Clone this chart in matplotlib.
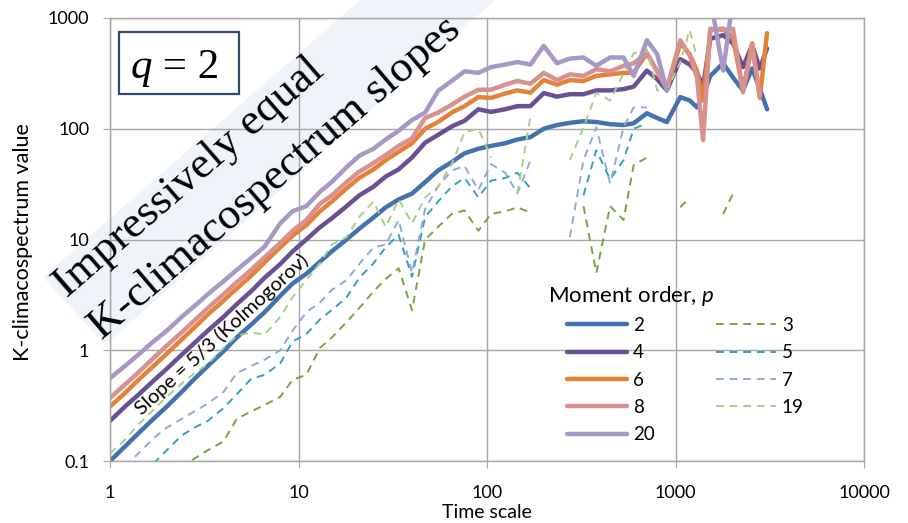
import numpy as np
import matplotlib
matplotlib.use("Agg")
import matplotlib.pyplot as plt
from matplotlib.patches import Polygon, Rectangle
from matplotlib.ticker import NullLocator

plt.rcParams['font.family'] = ['Lato', 'DejaVu Sans']
plt.rcParams['mathtext.fontset'] = 'custom'
plt.rcParams['mathtext.rm'] = 'Lato'
plt.rcParams['mathtext.it'] = 'Lato:italic'

nan = np.nan

# time scales (x)
scales = [1, 1.2, 1.4, 1.7, 2, 2.4, 2.8, 3.3, 4, 4.7,
          5.6, 6.6, 8, 9.3, 11, 13, 15, 18, 21, 25,
          29, 34, 40, 47, 55, 65, 76, 90, 105, 125,
          145, 170, 200, 235, 275, 325, 380, 450, 530, 600,
          705, 800, 900, 1060, 1190, 1300, 1400, 1530, 1790, 2020,
          2280, 2550, 2800, 3060]

p2 = [0.10, 0.135, 0.175, 0.24, 0.31, 0.42, 0.55, 0.72, 0.98, 1.3,
      1.7, 2.2, 3.1, 4.0, 4.9, 6.3, 7.8, 10, 12.5, 15.8,
      19.5, 23, 26, 33, 42, 50, 60, 66, 70, 74,
      80, 84, 100, 108, 113, 117, 115, 110, 108, 112,
      138, 125, 115, 193, 180, 156, 200, 300, 390, 290,
      222, 350, 230, 150]
p4 = [0.23, 0.31, 0.39, 0.53, 0.68, 0.91, 1.16, 1.5, 2.0, 2.6,
      3.4, 4.5, 6.0, 7.8, 10, 12.9, 15.5, 20, 25, 30,
      37, 43, 55, 75, 88, 105, 118, 150, 142, 150,
      160, 160, 210, 195, 205, 205, 222, 222, 228, 240,
      335, 280, 222, 425, 380, 320, 240, 650, 700, 590,
      360, 570, 350, 530]
p6 = [0.31, 0.41, 0.53, 0.72, 0.93, 1.25, 1.6, 2.1, 2.8, 3.6,
      4.7, 6.2, 8.5, 10.8, 13.5, 18, 22, 29, 36, 43,
      52, 62, 74, 100, 115, 140, 160, 193, 190, 208,
      222, 212, 275, 250, 275, 270, 300, 310, 320, 320,
      480, 330, 230, 590, 470, 335, 180, 780, 800, 660,
      222, 590, 190, 730]
p8 = [0.37, 0.49, 0.62, 0.85, 1.1, 1.45, 1.85, 2.4, 3.2, 4.1,
      5.3, 6.9, 9.3, 12, 15, 21, 25, 33, 41, 49,
      58, 70, 82, 125, 140, 165, 195, 225, 225, 250,
      270, 255, 320, 275, 310, 300, 345, 330, 370, 390,
      480, 330, 230, 630, 460, 290, 79, 800, 780, 800,
      213, 570, 200, nan]
p20 = [0.56, 0.72, 0.9, 1.2, 1.5, 2.0, 2.5, 3.2, 4.2, 5.3,
       6.8, 8.6, 14, 18, 20, 27, 33, 45, 57, 66,
       80, 96, 120, 140, 220, 270, 330, 320, 360, 380,
       400, 380, 560, 390, 430, 440, 370, 440, 440, 300,
       630, 470, 222, nan, nan, nan, nan, 1500, 335, 1500,
       nan, nan, nan, nan]
p3 = [nan, nan, nan, nan, nan, 0.085, 0.105, 0.125, 0.15, 0.24,
      0.28, 0.32, 0.38, 0.54, 0.6, 1.05, 1.3, 1.8, 2.4, 3.4,
      4.4, 5.5, 2.3, 10, 13, 17, 18.3, 12, 17, 18,
      19.5, 17.5, nan, nan, nan, 20, 5, 20, 15, 47,
      55, nan, nan, 19.5, 24, nan, nan, nan, 17, 26,
      nan, nan, nan, nan]
p5 = [nan, nan, nan, 0.095, 0.125, 0.17, 0.2, 0.23, 0.3, 0.4,
      0.55, 0.6, 0.76, 1.2, 1.4, 1.9, 2.3, 3.0, 4.5, 6.1,
      8.5, 11, 4.6, 16, 22, 30, 36, 24, 34, 36,
      40, 29, nan, nan, nan, 25, 64, 35, 52, 100,
      112, nan, nan, nan, nan, nan, nan, nan, nan, nan,
      nan, nan, nan, nan]
p7 = [nan, 0.09, 0.115, 0.16, 0.2, 0.24, 0.28, 0.33, 0.42, 0.62,
      0.72, 0.82, 1.0, 1.5, 2.2, 2.7, 3.5, 4.3, 6, 8.5,
      9, 15, 5.0, 19, 30, 42, 46, 28, 48, 40,
      26, 52, nan, nan, 10.5, 52, 103, 32, 103, 156,
      156, nan, nan, nan, nan, nan, nan, nan, nan, nan,
      nan, nan, nan, nan]
p19 = [0.117, 0.155, 0.21, 0.29, 0.38, 0.5, 0.62, 0.75, 1.05, 1.35,
       1.45, 1.38, 2.0, 3.0, 4.3, 6.1, 9, 10.5, 16, 22,
       13, 23, 14, 24, 30, 48, 93, 100, 55, nan,
       26, 130, nan, nan, 52, 103, 210, 180, 315, 480,
       520, 222, 222, 400, 780, 440, nan, nan, nan, nan,
       nan, nan, nan, nan]

series = [("2", p2, '#4273B0', '-'), ("3", p3, '#78A43E', '--'),
          ("4", p4, '#6A5092', '-'), ("5", p5, '#33A0BF', '--'),
          ("6", p6, '#E4823A', '-'), ("7", p7, '#8EAAD9', '--'),
          ("8", p8, '#D8918F', '-'), ("19", p19, '#A9CD8A', '--'),
          ("20", p20, '#A898C6', '-')]

W, H = 908, 523
fig = plt.figure(figsize=(W / 100, H / 100), dpi=100)


def fx(x):
    return x / W


def fy(y):
    return 1 - y / H


ax = fig.add_axes([fx(110), fy(461), (864 - 110) / W, (461 - 18) / H])
ax.patch.set_alpha(0)

handles = {}
for name, vals, col, ls in series:
    if ls == '-':
        h, = ax.plot(scales, vals, color=col, lw=3.2, solid_capstyle='round',
                     solid_joinstyle='round', label=name)
    else:
        h, = ax.plot(scales, vals, color=col, lw=1.4, dashes=(4, 3), label=name)
    handles[name] = h

ax.set_xscale('log')
ax.set_yscale('log')
ax.set_xlim(1, 10000)
ax.set_ylim(0.1, 1000)
ax.set_xticks([1, 10, 100, 1000, 10000])
ax.set_xticklabels(['1', '10', '100', '1000', '10000'])
ax.set_yticks([0.1, 1, 10, 100, 1000])
ax.set_yticklabels(['0.1', '1', '10', '100', '1000'])
ax.xaxis.set_minor_locator(NullLocator())
ax.yaxis.set_minor_locator(NullLocator())
ax.grid(True, color='#A6A6A6', lw=1.0)
ax.set_axisbelow(True)
for s in ax.spines.values():
    s.set_color('#A6A6A6')
    s.set_linewidth(1.0)
ax.tick_params(axis='both', which='major', length=5, color='#A6A6A6', labelsize=13)
ax.tick_params(axis='x', pad=12)
ax.tick_params(axis='y', pad=10)

fig.text(fx(487), fy(512), 'Time scale', ha='center', va='center', fontsize=14)
fig.text(fx(23), fy(242), 'K-climacospectrum value', ha='center', va='center',
         rotation=90, fontsize=15.5)

# light band behind the headline
band = Polygon([(fx(43), fy(277)), (fx(383), fy(-20)), (fx(518), fy(-20)), (fx(105), fy(345))],
               closed=True, transform=fig.transFigure, facecolor='#EFF3FA',
               edgecolor='none', zorder=-1)
fig.add_artist(band)

fig.text(fx(67), fy(298), 'Impressively equal', rotation=41, rotation_mode='anchor',
         ha='left', va='baseline', family='Liberation Serif', fontsize=32.5)
fig.text(fx(102), fy(340), 'K-climacospectrum slopes', rotation=40.5, rotation_mode='anchor',
         ha='left', va='baseline', family='Liberation Serif', fontsize=32)

fig.text(fx(142), fy(416), 'Slope = 5/3 (Kolmogorov)', rotation=42.5, rotation_mode='anchor',
         ha='left', va='baseline', fontsize=14.5)

# q = 2 box
box = Rectangle((fx(119), fy(94)), (239 - 119) / W, (94 - 32) / H, transform=fig.transFigure,
                facecolor='white', edgecolor='#2F4A6E', lw=1.6, zorder=5)
fig.add_artist(box)
fig.text(fx(152), fy(78), 'q', style='italic', family='Liberation Serif', fontsize=31,
         ha='right', va='baseline', zorder=6)
fig.text(fx(152), fy(78), ' = 2', family='Liberation Serif', fontsize=31,
         ha='left', va='baseline', zorder=6)

# legend
fig.text(fx(548), fy(302), 'Moment order, $p$', ha='left', va='baseline', fontsize=16)
order = ["2", "4", "6", "8", "20", "3", "5", "7", "19"]
leg = fig.legend([handles[k] for k in order], order, loc='upper left',
                 bbox_to_anchor=(fx(567), fy(317)), ncol=2, frameon=False,
                 fontsize=13.5, handlelength=3.2, handletextpad=0.3,
                 labelspacing=0.55, columnspacing=3.3, borderpad=0, borderaxespad=0)

fig.savefig('out.png', dpi=100)
